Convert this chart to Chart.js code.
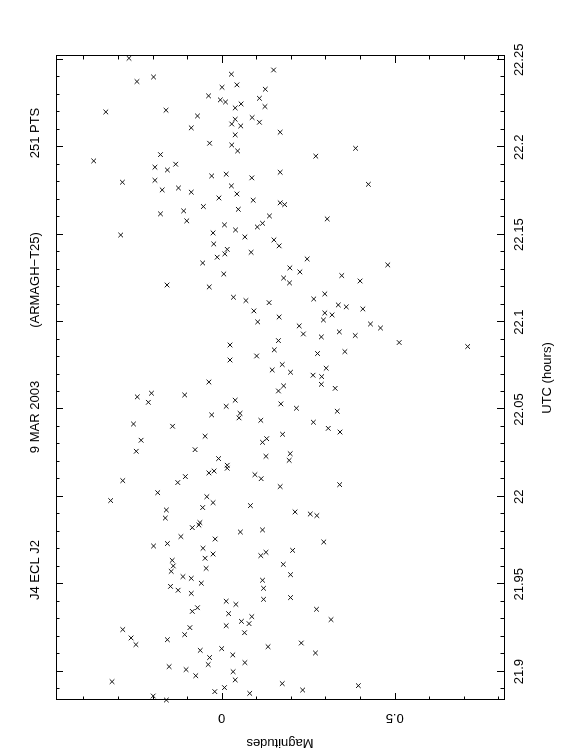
<!DOCTYPE html>
<html>
<head>
<meta charset="utf-8">
<title>J4 ECL J2 light curve</title>
<script src="https://cdn.jsdelivr.net/npm/chart.js@4/dist/chart.umd.min.js"></script>
<style>
  html, body { margin: 0; padding: 0; background: #fff; overflow: hidden; }
  body { width: 562px; height: 756px; position: relative; }
  /* the plot is drawn landscape and turned a quarter turn anticlockwise */
  #wrap { position: absolute; left: 0; top: 0; width: 756px; height: 562px;
          transform-origin: 0 0; transform: translateY(756px) rotate(-90deg); }
</style>
</head>
<body>
<div id="wrap"><canvas id="lightCurve" width="756" height="562" style="width:756px;height:562px"></canvas></div>
<script>
const utc = [
  22.2509, 22.2402, 22.2376, 22.2418, 22.2442, 22.2343, 22.2357, 22.2332, 22.2294, 22.2271,
  22.2259, 22.2225, 22.2248, 22.2280, 22.2233, 22.2202, 22.2212, 22.2179, 22.2111, 22.2160,
  22.2133, 22.2122, 22.2170, 22.2143, 22.2071, 22.2023, 22.2013, 22.1979, 22.1958, 22.1922,
  22.1886, 22.1870, 22.1903, 22.1836, 22.1846, 22.1825, 22.1800, 22.1811, 22.1756, 22.1767,
  22.1743, 22.1779, 22.1733, 22.1710, 22.1697,
  22.2086, 22.1994, 22.1949, 22.1857, 22.1788, 22.1682, 22.1672,
  22.1661, 22.1645, 22.1636, 22.1619, 22.1579, 22.1607, 22.1556, 22.1565, 22.1544, 22.1527,
  22.1510, 22.1498, 22.1487, 22.1470, 22.1447, 22.1416, 22.1390, 22.1371, 22.1399, 22.1338,
  22.1275, 22.1212, 22.1201, 22.1142, 22.1123, 22.1111, 22.1064, 22.1001, 22.0869, 22.0841,
  22.0806, 22.0783,
  22.1590, 22.1436, 22.1361, 22.1327, 22.1310, 22.1287, 22.1252, 22.1224, 22.1266, 22.1235,
  22.1161, 22.1132, 22.1098, 22.1087, 22.1075, 22.1029, 22.1052, 22.1012, 22.1041, 22.0978,
  22.0989, 22.0966, 22.0932, 22.0915, 22.0944, 22.0923, 22.0894, 22.0883, 22.0860, 22.0820,
  22.0831, 22.0757,
  22.0726, 22.0657, 22.0572, 22.0593, 22.0541, 22.0583, 22.0553, 22.0518, 22.0478, 22.0452,
  22.0469, 22.0438, 22.0417, 22.0404, 22.0347, 22.0324, 22.0333, 22.0312, 22.0261, 22.0270,
  22.0232, 22.0219, 22.0181, 22.0164, 22.0137, 22.0148, 22.0127, 22.0104, 22.0116, 22.0082,
  22.0093, 22.0024, 21.9979, 22.0001, 21.9967, 21.9939, 21.9950, 21.9925, 21.9879, 21.9853,
  21.9839,
  22.0736, 22.0713, 22.0696, 22.0688, 22.0635, 22.0606, 22.0644, 22.0621, 22.0532, 22.0507,
  22.0490, 22.0427, 22.0392, 22.0371, 22.0358, 22.0247, 22.0209, 22.0059, 22.0070, 21.9914,
  21.9902, 21.9893,
  21.9824, 21.9799, 21.9811, 21.9773, 21.9719, 21.9733, 21.9759, 21.9706, 21.9673, 21.9649,
  21.9664, 21.9683, 21.9637, 21.9605, 21.9574, 21.9591, 21.9544, 21.9534, 21.9506, 21.9523,
  21.9488, 21.9466, 21.9448, 21.9477, 21.9414, 21.9403, 21.9385, 21.9366, 21.9345, 21.9332,
  21.9315, 21.9288, 21.9275, 21.9263, 21.9252, 21.9241, 21.9223, 21.9212, 21.9193, 21.9155,
  21.9183, 21.9143, 21.9122, 21.9132, 21.9096, 21.9081, 21.9041, 21.9052, 21.9029, 21.9012,
  21.9000, 21.8977, 21.8953, 21.8943, 21.8886, 21.8909, 21.8876, 21.8861, 21.8838,
  21.9742, 21.9694, 21.9614, 21.9555, 21.9424, 21.9357, 21.9298, 21.9164, 21.9107, 21.8932,
  21.8895, 21.8920
];
const mag = [
  -0.268, -0.197, -0.245, 0.028, 0.150, 0.001, 0.044, 0.126, -0.038, -0.004,
  0.011, 0.039, 0.056, 0.109, 0.125, -0.335, -0.161, -0.070, -0.088, 0.039,
  0.029, 0.055, 0.088, 0.109, 0.039, -0.035, 0.029, 0.046, -0.177, -0.370,
  -0.193, -0.157, -0.133, -0.029, 0.013, 0.087, -0.287, -0.193, -0.172, -0.125,
  -0.088, 0.028, 0.044, -0.008, 0.091,
  0.169, 0.387, 0.272, 0.169, 0.424, 0.169, 0.182,
  -0.053, 0.048, -0.110, -0.177, -0.101, 0.138, 0.008, 0.118, 0.103, 0.040,
  -0.025, -0.292, 0.067, 0.151, -0.023, 0.016, 0.009, -0.013, 0.085, -0.055,
  0.006, -0.158, -0.036, 0.034, 0.070, 0.137, 0.093, 0.104, 0.024, 0.152,
  0.101, 0.024,
  0.305, 0.166, 0.247, 0.480, 0.197, 0.226, 0.179, 0.196, 0.347, 0.400,
  0.298, 0.266, 0.337, 0.360, 0.408, 0.166, 0.298, 0.294, 0.319, 0.224,
  0.430, 0.459, 0.236, 0.288, 0.340, 0.386, 0.164, 0.513, 0.711, 0.277,
  0.356, 0.175,
  0.146, -0.037, -0.244, -0.203, -0.212, -0.107, 0.039, 0.013, 0.053, 0.050,
  -0.029, 0.113, -0.255, -0.142, -0.048, -0.233, 0.130, 0.118, -0.247, -0.077,
  0.128, -0.009, 0.016, 0.016, -0.037, -0.022, 0.096, 0.114, -0.105, -0.127,
  -0.286, -0.185, -0.321, -0.043, -0.025, -0.055, 0.083, -0.160, -0.163, -0.063,
  -0.066,
  0.302, 0.199, 0.264, 0.289, 0.179, 0.164, 0.288, 0.328, 0.171, 0.216,
  0.334, 0.265, 0.308, 0.342, 0.176, 0.198, 0.195, 0.169, 0.341, 0.212,
  0.256, 0.275,
  -0.085, 0.054, 0.118, -0.118, -0.197, -0.157, -0.019, -0.054, -0.025, -0.048,
  0.113, 0.128, -0.143, -0.140, -0.146, -0.045, -0.112, -0.088, -0.059, 0.118,
  -0.148, -0.126, -0.088, 0.121, 0.121, 0.013, 0.041, -0.070, -0.085, 0.020,
  0.087, 0.057, 0.079, 0.013, -0.092, -0.286, 0.066, -0.107, -0.262, -0.248,
  -0.157, 0.134, -0.062, 0.000, 0.032, -0.035, -0.039, 0.067, -0.152, -0.103,
  0.033, -0.075, 0.039, -0.317, -0.020, 0.008, 0.081, -0.198, -0.160,
  0.295, 0.205, 0.178, 0.199, 0.199, 0.274, 0.316, 0.230, 0.271, 0.175,
  0.234, 0.395
];

// axis limits and tick steps
const utcRange = [21.8838, 22.2522];
const magRange = [-0.479, 0.816];
const utcStep = 0.01, utcMajor = 0.05;
const magStep = 0.1, magMajor = 0.5;

// title pieces
const titleParts = ['J4 ECL J2', '9 MAR 2003', '(ARMAGH\u2212T25)', '251 PTS'];

const isMajor = (v, step) => Math.abs(v / step - Math.round(v / step)) < 1e-6;

Chart.defaults.font.family = '"Liberation Sans", Arial, sans-serif';
Chart.defaults.font.size = 13;
Chart.defaults.color = '#000';

// PGPLOT style box: frame with inward ticks on all four sides, plus the title line
const pgBox = {
  id: 'pgBox',
  afterDraw(chart) {
    const { ctx, chartArea: a, scales: { x, y } } = chart;
    ctx.save();
    ctx.strokeStyle = '#000';
    ctx.lineWidth = 1;
    ctx.strokeRect(a.left + 0.5, a.top + 0.5, a.right - a.left, a.bottom - a.top);
    ctx.beginPath();
    x.ticks.forEach(t => {
      const px = Math.round(x.getPixelForValue(t.value)) + 0.5;
      const len = isMajor(t.value, utcMajor) ? 7 : 3.5;
      ctx.moveTo(px, a.bottom); ctx.lineTo(px, a.bottom - len);
      ctx.moveTo(px, a.top); ctx.lineTo(px, a.top + len);
    });
    y.ticks.forEach(t => {
      const py = Math.round(y.getPixelForValue(t.value)) + 0.5;
      const len = isMajor(t.value, magMajor) ? 7 : 3.5;
      ctx.moveTo(a.left, py); ctx.lineTo(a.left + len, py);
      ctx.moveTo(a.right, py); ctx.lineTo(a.right - len, py);
    });
    ctx.stroke();

    ctx.fillStyle = '#000';
    ctx.font = '13px "Liberation Sans", Arial, sans-serif';
    ctx.textAlign = 'center';
    ctx.textBaseline = 'middle';
    const cx = [186, 339, 476, 623];
    titleParts.forEach((s, i) => ctx.fillText(s, cx[i], 35));
    ctx.restore();
  }
};

new Chart(document.getElementById('lightCurve'), {
  type: 'scatter',
  data: {
    datasets: [{
      label: 'J4 ECL J2',
      data: utc.map((t, i) => ({ x: t, y: mag[i] })),
      pointStyle: 'crossRot',
      pointRadius: 3.3,
      borderColor: '#111',
      borderWidth: 1,
      clip: false
    }]
  },
  options: {
    responsive: false,
    animation: false,
    events: [],
    layout: { padding: { top: 56, right: 56, left: 0, bottom: 0 } },
    plugins: {
      legend: { display: false },
      tooltip: { enabled: false },
      title: { display: false }
    },
    scales: {
      x: {
        type: 'linear',
        position: 'bottom',
        min: utcRange[0],
        max: utcRange[1],
        grid: { display: false, drawTicks: false },
        border: { display: false },
        ticks: {
          stepSize: utcStep,
          includeBounds: false,
          autoSkip: false,
          maxRotation: 0,
          minRotation: 0,
          padding: 8,
          callback: v => isMajor(v, utcMajor) ? String(Math.round(v * 100) / 100) : ''
        },
        title: { display: true, text: 'UTC (hours)', padding: { top: 0, bottom: 7 } },
        afterFit: s => { s.height = 58; }
      },
      y: {
        type: 'linear',
        position: 'left',
        reverse: true,
        min: magRange[0],
        max: magRange[1],
        grid: { display: false, drawTicks: false },
        border: { display: false },
        ticks: {
          stepSize: magStep,
          includeBounds: false,
          autoSkip: false,
          minRotation: 90,
          maxRotation: 90,
          crossAlign: 'center',
          padding: 9,
          callback: v => isMajor(v, magMajor) ? String(Math.round(v * 10) / 10) : ''
        },
        title: { display: true, text: 'Magnitudes', padding: { top: 6, bottom: 0 } },
        afterFit: s => { s.width = 56; }
      }
    }
  },
  plugins: [pgBox]
});
</script>
</body>
</html>
